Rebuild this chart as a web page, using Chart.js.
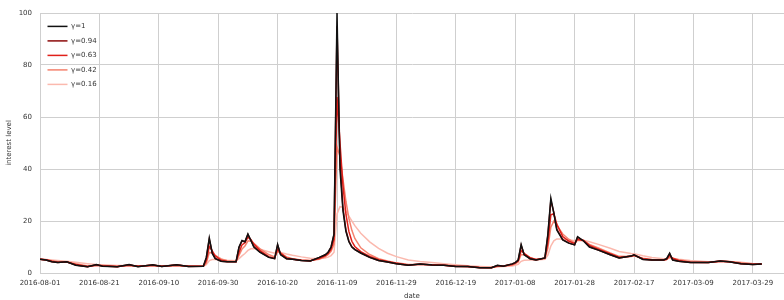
<!DOCTYPE html>
<html>
<head>
<meta charset="utf-8">
<script src="https://cdn.jsdelivr.net/npm/chart.js@4.4.1/dist/chart.umd.min.js"></script>
<style>
  html, body { margin: 0; padding: 0; background: #fff; }
  #wrap { width: 784px; height: 300px; }
</style>
</head>
<body>
<div id="wrap"><canvas id="myChart"></canvas></div>
<script>
// day number counted from 2016-08-01
const days = [0, 2, 4, 6, 9, 12, 16, 19, 21, 26, 30, 33, 38, 41, 46, 50, 55, 56, 57, 58,
  59, 61, 63, 66, 67, 68, 69, 70, 71, 72, 74, 77, 79, 80, 81, 83, 85, 88, 91, 94,
  96, 97, 98, 99, 100, 101, 102, 103, 104, 105, 106, 108, 111, 114, 117, 120, 124, 128, 132, 136,
  140, 144, 148, 152, 154, 156, 159, 160, 161, 162, 163, 165, 167, 170, 171, 172, 173, 174, 176, 178,
  180, 181, 183, 185, 188, 192, 195, 199, 200, 203, 206, 210, 211, 212, 213, 215, 219, 225, 229, 232,
  236, 240, 243];

const seriesNames = ["γ=1", "γ=0.94", "γ=0.63", "γ=0.42", "γ=0.16"];

const g100 = [5.3, 5.0, 4.3, 4.0, 4.3, 3.0, 2.4, 3.3, 2.6, 2.4, 3.3, 2.4, 3.2, 2.5, 3.2, 2.5, 2.6, 6, 13.5, 7.5,
  5.5, 4.5, 4.3, 4.3, 10, 12.5, 12, 15, 12.5, 10, 8, 6, 5.5, 11, 7, 5.5, 5.3, 4.8, 4.6, 6,
  7, 8, 10, 15, 100, 40, 24, 16, 12, 10, 9, 7.7, 6, 4.8, 4.2, 3.6, 3.0, 3.5, 3.1, 3.0,
  2.5, 2.5, 2.0, 2.0, 3.0, 2.6, 3.5, 4.0, 5.0, 11, 7, 5.5, 5.0, 5.8, 15, 28.8, 23, 16.5, 12.7, 11.5,
  10.8, 14, 12.3, 10, 8.8, 7, 5.8, 6.5, 7, 5.2, 5.0, 5.0, 5.5, 7.6, 5.0, 4.5, 4.0, 4.0, 4.6, 4.3,
  3.6, 3.3, 3.5];

const g094 = [5.3, 5.0, 4.3, 4.0, 4.3, 3.1, 2.4, 3.2, 2.7, 2.4, 3.2, 2.5, 3.1, 2.5, 3.2, 2.5, 2.6, 5.8, 13.0, 7.8,
  5.6, 4.5, 4.3, 4.3, 9.7, 12.3, 12.0, 14.8, 12.6, 10.2, 8.1, 6.1, 5.5, 10.7, 7.2, 5.5, 5.3, 4.8, 4.6, 5.9,
  6.9, 7.9, 9.9, 14.7, 94.9, 43.3, 25.2, 16.5, 12.3, 10.1, 9.1, 7.7, 6.0, 4.8, 4.2, 3.6, 3.0, 3.5, 3.1, 3.0,
  2.5, 2.5, 2.0, 2.0, 2.9, 2.6, 3.5, 4.0, 4.9, 10.6, 7.2, 5.5, 5.0, 5.8, 14.5, 27.9, 23.3, 16.9, 12.8, 11.6,
  10.8, 13.8, 12.4, 10.1, 8.8, 7.0, 5.8, 6.5, 7.0, 5.3, 5.0, 5.0, 5.5, 7.4, 5.1, 4.5, 4.0, 4.0, 4.6, 4.3,
  3.6, 3.3, 3.5];

const g063 = [5.3, 5.1, 4.5, 4.1, 4.2, 3.3, 2.5, 3.0, 2.8, 2.5, 3.0, 2.6, 3.0, 2.6, 3.0, 2.6, 2.6, 4.7, 10.2, 8.5,
  6.6, 4.9, 4.4, 4.3, 7.9, 10.8, 11.6, 13.7, 12.9, 11.1, 8.7, 6.3, 5.7, 9.0, 7.7, 5.8, 5.4, 4.9, 4.7, 5.6,
  6.6, 7.5, 9.1, 12.8, 67.7, 50.2, 33.7, 22.6, 16.0, 12.2, 10.2, 8.2, 6.4, 5.1, 4.4, 3.8, 3.1, 3.4, 3.2, 3.0,
  2.6, 2.5, 2.1, 2.0, 2.7, 2.7, 3.3, 3.8, 4.6, 8.6, 7.6, 5.9, 5.2, 5.7, 11.6, 22.4, 22.8, 18.8, 14.0, 12.3,
  11.3, 13.0, 12.5, 10.6, 9.2, 7.4, 6.1, 6.4, 6.8, 5.5, 5.1, 5.0, 5.3, 6.8, 5.7, 4.8, 4.1, 4.0, 4.5, 4.3,
  3.7, 3.4, 3.5];

const g042 = [5.3, 5.1, 4.7, 4.3, 4.2, 3.6, 2.7, 2.9, 2.9, 2.5, 2.9, 2.7, 2.9, 2.7, 2.9, 2.7, 2.6, 3.8, 7.9, 7.7,
  6.8, 5.4, 4.7, 4.4, 6.8, 9.2, 10.4, 12.3, 12.4, 11.4, 9.4, 7.1, 6.2, 8.2, 7.7, 6.2, 5.5, 5.0, 4.8, 5.3,
  6.2, 7.0, 8.3, 11.1, 48.4, 44.9, 36.1, 27.6, 21.0, 16.4, 13.3, 9.7, 7.1, 5.5, 4.6, 3.9, 3.3, 3.3, 3.2, 3.1,
  2.7, 2.5, 2.2, 2.1, 2.5, 2.7, 3.1, 3.5, 4.2, 7.1, 7.0, 5.9, 5.2, 5.6, 9.6, 17.6, 19.9, 18.4, 15.0, 13.0,
  11.6, 12.6, 12.5, 11.0, 9.6, 7.7, 6.4, 6.3, 6.6, 5.7, 5.2, 5.0, 5.2, 6.2, 5.7, 5.1, 4.3, 4.1, 4.4, 4.4,
  3.9, 3.5, 3.5];

const g016 = [5.3, 5.2, 5.0, 4.8, 4.5, 4.1, 3.6, 3.3, 3.2, 2.9, 2.9, 2.8, 2.9, 2.8, 2.9, 2.8, 2.7, 3.2, 4.8, 5.2,
  5.2, 5.1, 4.9, 4.7, 5.5, 6.6, 7.5, 8.7, 9.3, 9.4, 9.1, 8.2, 7.6, 8.1, 7.9, 7.3, 6.8, 6.2, 5.7, 5.6,
  5.8, 6.1, 6.7, 8.0, 22.7, 25.5, 25.3, 23.8, 21.9, 20.0, 18.2, 15.3, 12.0, 9.5, 7.6, 6.3, 5.0, 4.4, 4.0, 3.6,
  3.2, 2.8, 2.5, 2.3, 2.4, 2.5, 2.7, 3.0, 3.3, 4.5, 4.9, 5.0, 5.0, 5.3, 6.9, 10.4, 12.4, 13.1, 13.1, 12.8,
  12.4, 12.7, 12.6, 12.0, 11.0, 9.5, 8.3, 7.5, 7.4, 6.6, 6.0, 5.5, 5.5, 5.8, 5.7, 5.3, 4.8, 4.3, 4.4, 4.4,
  4.1, 3.7, 3.6];

const seriesValues = [g100, g094, g063, g042, g016];
const seriesColors = ["#111111", "#8c0a0a", "#e0201a", "#f4826e", "#fbb9ae"];

const dayToDate = function (d) {
  const t = Date.UTC(2016, 7, 1) + d * 86400000;
  return new Date(t).toISOString().slice(0, 10);
};

const datasets = seriesNames.map((name, i) => ({
  label: name,
  data: days.map((d, j) => ({ x: d, y: seriesValues[i][j] })),
  borderColor: seriesColors[i],
  backgroundColor: seriesColors[i],
  borderWidth: 1.5,
  pointRadius: 0,
  tension: 0,
  fill: false,
}));

const tickFont = { family: "DejaVu Sans", size: 7 };
const gridColor = "#cfcfcf";

const ctx = document.getElementById("myChart").getContext("2d");

new Chart(ctx, {
  type: "line",
  data: { datasets },
  options: {
    responsive: true,
    maintainAspectRatio: false,
    animation: false,
    layout: { padding: { top: 13, right: 0, bottom: 0, left: 0 } },
    plugins: {
      tooltip: { enabled: false },
      legend: {
        position: "chartArea",
        align: "start",
        // empty title only pushes the entries down
        title: { display: true, text: "", font: tickFont, padding: { top: 7, bottom: 0 } },
        labels: {
          usePointStyle: true,
          pointStyle: "line",
          pointStyleWidth: 20,
          boxHeight: 7,
          padding: 7.5,
          color: "#333",
          font: tickFont,
        },
      },
    },
    scales: {
      x: {
        type: "linear",
        min: 0,
        max: 250.5,
        afterFit: (scale) => {
          scale.height = 27;
        },
        ticks: {
          stepSize: 20,
          includeBounds: false,
          maxRotation: 0,
          autoSkip: false,
          padding: 6,
          color: "#333",
          font: tickFont,
          callback: (v) => dayToDate(v),
        },
        grid: { color: gridColor, drawTicks: false },
        border: { color: gridColor },
        title: {
          display: true,
          text: "date",
          color: "#333",
          font: tickFont,
          padding: { top: 0, bottom: 0 },
        },
      },
      y: {
        min: 0,
        max: 100,
        afterFit: (scale) => {
          scale.width = 40;
        },
        ticks: {
          stepSize: 20,
          padding: 8,
          color: "#333",
          font: tickFont,
        },
        grid: { color: gridColor, drawTicks: false },
        border: { color: gridColor },
        title: {
          display: true,
          text: "interest level",
          color: "#333",
          font: tickFont,
          padding: 5,
        },
      },
    },
  },
});
</script>
</body>
</html>
